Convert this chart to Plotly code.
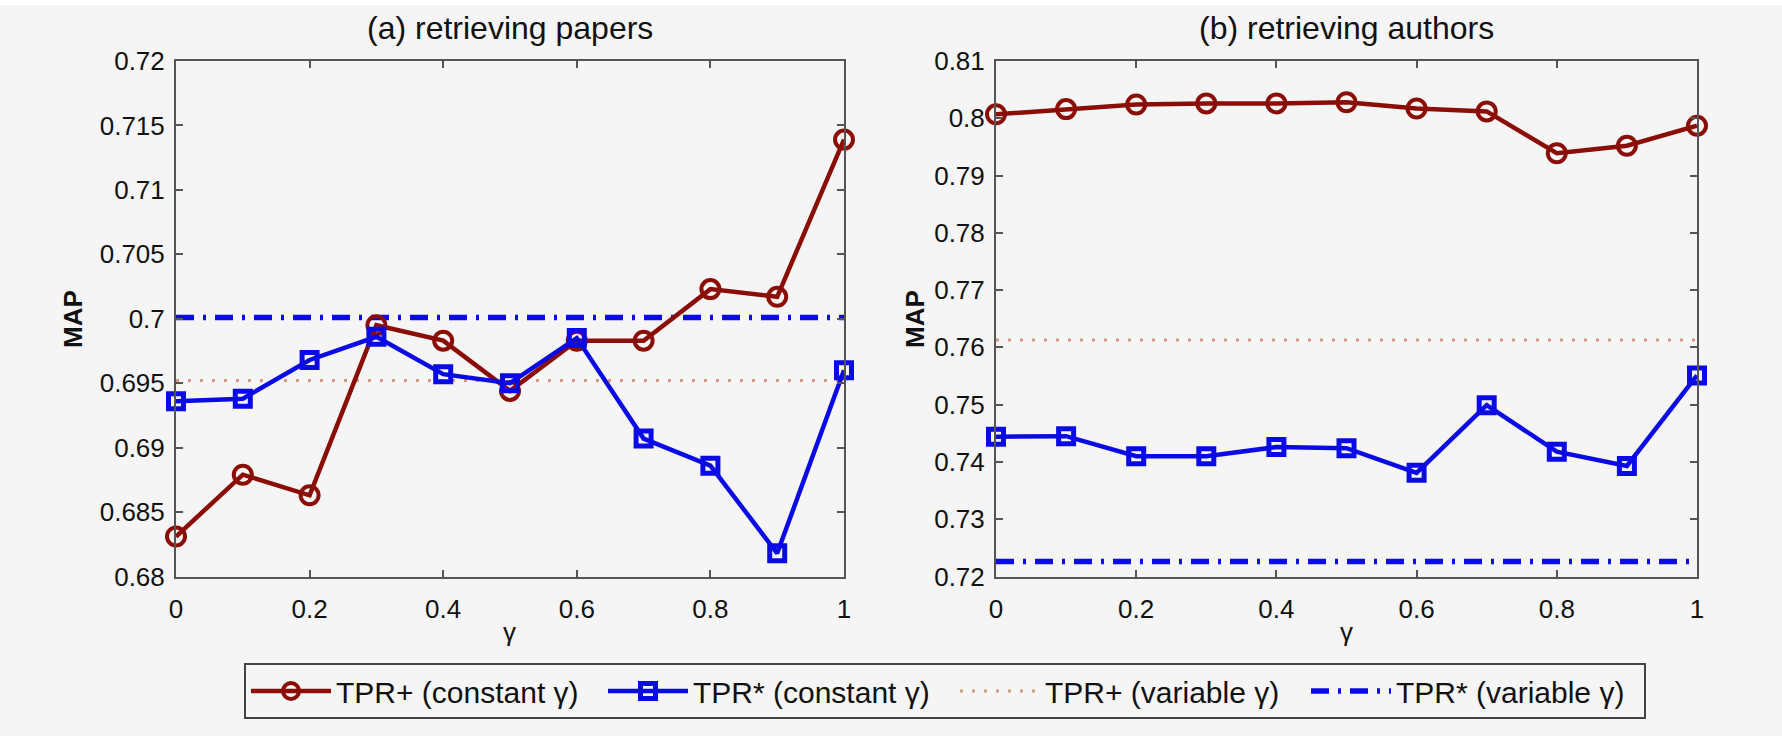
import plotly.graph_objects as go

# ---------------- data ----------------
gamma = [0.0, 0.1, 0.2, 0.3, 0.4, 0.5, 0.6, 0.7, 0.8, 0.9, 1.0]

papers_tpr_plus_const = [0.6831, 0.6879, 0.6863, 0.6995, 0.6983, 0.6944, 0.6983, 0.6983, 0.7023, 0.7017, 0.7139]
papers_tpr_star_const = [0.6936, 0.6938, 0.6968, 0.6986, 0.6957, 0.6950, 0.6985, 0.6907, 0.6886, 0.6818, 0.6960]
papers_tpr_plus_var = 0.6952
papers_tpr_star_var = 0.7001

authors_tpr_plus_const = [0.8007, 0.8016, 0.8024, 0.8026, 0.8026, 0.8028, 0.8017, 0.8012, 0.7939, 0.7952, 0.7987]
authors_tpr_star_const = [0.7444, 0.7445, 0.7410, 0.7410, 0.7426, 0.7424, 0.7381, 0.7499, 0.7418, 0.7393, 0.7551]
authors_tpr_plus_var = 0.7613
authors_tpr_star_var = 0.7226

series_names = ["TPR+ (constant γ)", "TPR* (constant γ)", "TPR+ (variable γ)", "TPR* (variable γ)"]
legend_widths = [262, 257, 256, 243]
panel_titles = ["(a) retrieving papers", "(b) retrieving authors"]
x_title = "γ"
y_title = "MAP"

x_tickvals = [0, 0.2, 0.4, 0.6, 0.8, 1.0]
x_ticktext = ["0", "0.2", "0.4", "0.6", "0.8", "1"]
papers_tickvals = [0.68, 0.685, 0.69, 0.695, 0.70, 0.705, 0.71, 0.715, 0.72]
papers_ticktext = ["0.68", "0.685", "0.69", "0.695", "0.7", "0.705", "0.71", "0.715", "0.72"]
authors_tickvals = [0.72, 0.73, 0.74, 0.75, 0.76, 0.77, 0.78, 0.79, 0.80, 0.81]
authors_ticktext = ["0.72", "0.73", "0.74", "0.75", "0.76", "0.77", "0.78", "0.79", "0.8", "0.81"]

# ---------------- style ----------------
W, H = 1782, 736
BG = "#f5f5f5"
RED = "#8a0e05"
BLUE = "#0a0ae6"
DOT = "#d49a80"
AX = "#555555"
FONT = "Liberation Sans, Helvetica, Arial, sans-serif"

fig = go.Figure()

panels = [
    ("x", "y", papers_tpr_plus_const, papers_tpr_star_const, papers_tpr_plus_var, papers_tpr_star_var, True),
    ("x2", "y2", authors_tpr_plus_const, authors_tpr_star_const, authors_tpr_plus_var, authors_tpr_star_var, False),
]

for xa, ya, plus_c, star_c, plus_v, star_v, show in panels:
    fig.add_trace(go.Scatter(
        x=[gamma[0], gamma[-1]], y=[plus_v, plus_v], xaxis=xa, yaxis=ya,
        mode="lines", name=series_names[2], showlegend=show, legendrank=3, legendwidth=legend_widths[2],
        line=dict(color=DOT, width=3, dash="3px,9px"), cliponaxis=False))
    fig.add_trace(go.Scatter(
        x=[gamma[0], gamma[-1]], y=[star_v, star_v], xaxis=xa, yaxis=ya,
        mode="lines", name=series_names[3], showlegend=show, legendrank=4, legendwidth=legend_widths[3],
        line=dict(color=BLUE, width=5.5, dash="18px,9px,3px,9px"), cliponaxis=False))
    fig.add_trace(go.Scatter(
        x=gamma, y=plus_c, xaxis=xa, yaxis=ya, mode="lines+markers",
        name=series_names[0], showlegend=show, legendrank=1, legendwidth=legend_widths[0],
        line=dict(color=RED, width=4.5),
        marker=dict(symbol="circle-open", size=18, color=RED, line=dict(color=RED, width=4)),
        cliponaxis=False))
    fig.add_trace(go.Scatter(
        x=gamma, y=star_c, xaxis=xa, yaxis=ya, mode="lines+markers",
        name=series_names[1], showlegend=show, legendrank=2, legendwidth=legend_widths[1],
        line=dict(color=BLUE, width=4.5),
        marker=dict(symbol="square-open", size=15, color=BLUE, line=dict(color=BLUE, width=5)),
        cliponaxis=False))

def px_x(p):
    return p / W

def px_y(p):
    return 1 - p / H

ax_common = dict(showline=True, linecolor=AX, linewidth=2, mirror="ticks",
                 ticks="inside", ticklen=7, tickwidth=2, tickcolor=AX,
                 showgrid=False, zeroline=False, automargin=False,
                 tickfont=dict(family=FONT, size=26, color="#111111"))

y_dom = [px_y(576.5), px_y(61)]
fig.update_layout(
    template="none",
    width=W, height=H,
    margin=dict(l=0, r=0, t=0, b=0, pad=0, autoexpand=False),
    paper_bgcolor=BG, plot_bgcolor=BG,
    font=dict(family=FONT, color="#111111"),
    xaxis=dict(domain=[px_x(176), px_x(844)], range=[0, 1], tickvals=x_tickvals, ticktext=x_ticktext,
               ticklabelstandoff=8, anchor="y", **ax_common),
    yaxis=dict(domain=y_dom, range=[0.68, 0.72], tickvals=papers_tickvals, ticktext=papers_ticktext,
               ticklabelstandoff=4, anchor="x", **ax_common),
    xaxis2=dict(domain=[px_x(996), px_x(1697)], range=[0, 1], tickvals=x_tickvals, ticktext=x_ticktext,
                ticklabelstandoff=8, anchor="y2", **ax_common),
    yaxis2=dict(domain=y_dom, range=[0.72, 0.81], tickvals=authors_tickvals, ticktext=authors_ticktext,
                ticklabelstandoff=4, anchor="x2", **ax_common),
    showlegend=True,
    legend=dict(orientation="h", xref="container", yref="container",
                x=px_x(244), y=px_y(663), xanchor="left", yanchor="top",
                bgcolor=BG, bordercolor="#444444", borderwidth=2,
                font=dict(family=FONT, size=30, color="#111111"),
                itemwidth=80, entrywidthmode="pixels",
                traceorder="normal"),
    shapes=[dict(type="rect", xref="paper", yref="paper", x0=0, x1=1, y0=px_y(5), y1=1,
                 fillcolor="white", line=dict(width=0), layer="below")],
)

annotations = []
for title, x0, x1 in [(panel_titles[0], 176, 844), (panel_titles[1], 996, 1697)]:
    cx = (x0 + x1) / 2
    annotations.append(dict(text=title, x=px_x(cx), y=px_y(28), xref="paper", yref="paper",
                            showarrow=False, xanchor="center", yanchor="middle",
                            font=dict(family=FONT, size=32, color="#111111")))
    annotations.append(dict(text=x_title, x=px_x(cx), y=px_y(632), xref="paper", yref="paper",
                            showarrow=False, xanchor="center", yanchor="middle",
                            font=dict(family=FONT, size=26, color="#111111")))
for xc in [73, 915]:
    annotations.append(dict(text="<b>" + y_title + "</b>", x=px_x(xc), y=px_y(319), xref="paper", yref="paper",
                            showarrow=False, xanchor="center", yanchor="middle", textangle=-90,
                            font=dict(family=FONT, size=26, color="#111111")))
fig.update_layout(annotations=annotations)

fig.write_html("out.html")
